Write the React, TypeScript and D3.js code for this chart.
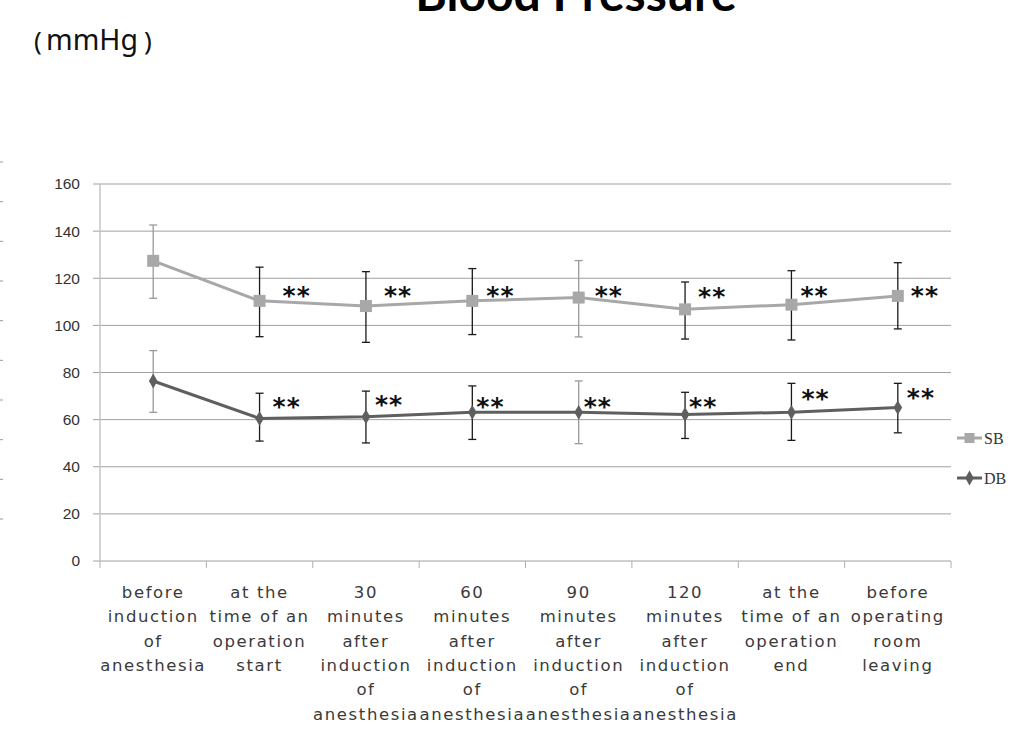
import React from "react";
import * as d3 from "d3";

const categories: string[][] = [
  ["before", "induction", "of", "anesthesia"],
  ["at the", "time of an", "operation", "start"],
  ["30", "minutes", "after", "induction", "of", "anesthesia"],
  ["60", "minutes", "after", "induction", "of", "anesthesia"],
  ["90", "minutes", "after", "induction", "of", "anesthesia"],
  ["120", "minutes", "after", "induction", "of", "anesthesia"],
  ["at the", "time of an", "operation", "end"],
  ["before", "operating", "room", "leaving"],
];

const sbMean = [127.4, 110.4, 108.2, 110.4, 111.8, 106.8, 108.8, 112.5];
const sbHigh = [142.6, 124.7, 122.8, 124.1, 127.5, 118.4, 123.2, 126.6];
const sbLow = [111.5, 95.2, 92.8, 96.1, 95.1, 94.2, 93.8, 98.5];

const dbMean = [76.4, 60.5, 61.2, 63.1, 63.1, 62.2, 63.1, 65.1];
const dbHigh = [89.3, 71.2, 72.1, 74.3, 76.4, 71.6, 75.4, 75.4];
const dbLow = [63.1, 50.9, 50.1, 51.6, 49.8, 52.0, 51.2, 54.4];

// error bar tone per point (true = light grey, false = black)
const sbBarLight = [true, false, false, false, true, false, false, false];
const dbBarLight = [true, false, false, false, true, false, false, false];

// significance marks ("**") and the value level at which they sit
const sbSig = ["", "**", "**", "**", "**", "**", "**", "**"];
const sbSigLevel = [0, 114.6, 114.8, 114.6, 114.6, 114.2, 114.4, 114.6];
const dbSig = ["", "**", "**", "**", "**", "**", "**", "**"];
const dbSigLevel = [0, 67.6, 68.4, 67.6, 67.6, 67.6, 70.8, 71.3];
// horizontal nudge of each mark from its point (px)
const sbSigShift = [0, 23, 18, 14, 16, 13, 9, 13];
const dbSigShift = [0, 13, 9, 4, 5, 4, 10, 9];

const yTicks = [0, 20, 40, 60, 80, 100, 120, 140, 160];
const seriesNames = ["SB", "DB"];
const edgeMarks = [0, 1, 2, 3, 4, 5, 6, 7, 8, 9];

const W = 1031;
const H = 745;
const left = 100;
const right = 951;
const top = 184;
const bottom = 561;

const SB_COLOR = "#a8a8a8";
const DB_COLOR = "#5f5f5f";
const FONT = "'DejaVu Sans', sans-serif";

export default function App() {
  const x = d3
    .scaleBand<number>()
    .domain(d3.range(categories.length))
    .range([left, right])
    .paddingInner(0)
    .paddingOuter(0);
  const cx = (i: number) => (x(i) as number) + x.bandwidth() / 2;
  const y = d3.scaleLinear().domain([0, 160]).range([bottom, top]);
  const edge = d3.scaleLinear().domain([0, 9]).range([162, 519]);

  const line = d3
    .line<number>()
    .x((_, i) => cx(i))
    .y((d) => y(d));

  const diamond = d3.symbol().type(d3.symbolDiamond).size(64)();

  const boundaries = d3.range(categories.length + 1).map((i) =>
    i < categories.length ? (x(i) as number) : right
  );

  const errorBars = (
    means: number[],
    highs: number[],
    lows: number[],
    light: boolean[],
    key: string
  ) =>
    means.map((_, i) => {
      const c = light[i] ? "#9a9a9a" : "#1a1a1a";
      const xx = cx(i);
      return (
        <g key={key + i} stroke={c} strokeWidth={1.3}>
          <line x1={xx} x2={xx} y1={y(highs[i])} y2={y(lows[i])} />
          <line x1={xx - 4} x2={xx + 4} y1={y(highs[i])} y2={y(highs[i])} />
          <line x1={xx - 4} x2={xx + 4} y1={y(lows[i])} y2={y(lows[i])} />
        </g>
      );
    });

  const sig = (
    marks: string[],
    levels: number[],
    shifts: number[],
    key: string
  ) =>
    marks.map((s, i) =>
      s ? (
        <text
          key={key + i}
          x={cx(i) + shifts[i]}
          y={y(levels[i]) + 13}
          fontFamily="'DejaVu Sans', sans-serif"
          fontSize={25}
          fontWeight="bold"
          letterSpacing={1}
          fill="#111"
        >
          {s}
        </text>
      ) : null
    );

  return (
    <svg
      width={W}
      height={H}
      style={{ position: "fixed", left: 0, top: 0, background: "#fff" }}
      fontFamily={FONT}
    >
      <rect x={0} y={0} width={W} height={H} fill="#fff" />
      {/* title (cut at top) */}
      <text
        x={576}
        y={11}
        textAnchor="middle"
        fontFamily="Lato, 'Open Sans', sans-serif"
        fontWeight="bold"
        fontSize={48}
        fill="#000"
      >
        Blood Pressure
      </text>
      <g fontFamily="'Noto Sans', sans-serif" fill="#111">
        <text x={34} y={50} fontSize={26}>(</text>
        <text x={46} y={50} fontSize={28.5}>mmHg</text>
        <text x={144} y={50} fontSize={26}>)</text>
      </g>

      {/* cropped marks at left edge */}
      {edgeMarks.map((m) => (
        <line
          key={"e" + m}
          x1={0}
          x2={3}
          y1={edge(m)}
          y2={edge(m)}
          stroke="#999"
          strokeWidth={1}
        />
      ))}

      {/* gridlines */}
      {yTicks.map((t) => (
        <line
          key={"g" + t}
          x1={left - 7}
          x2={right}
          y1={y(t)}
          y2={y(t)}
          stroke="#a0a0a0"
          strokeWidth={1}
        />
      ))}
      {/* y axis */}
      <line x1={left} x2={left} y1={top} y2={bottom + 1} stroke="#c4c4c4" strokeWidth={1.5} />
      {yTicks.map((t) => (
        <text
          key={"yt" + t}
          x={80}
          y={y(t)}
          dy="0.35em"
          textAnchor="end"
          fontFamily="'Liberation Sans', sans-serif"
          fontSize={15.5}
          fill="#333"
        >
          {t}
        </text>
      ))}
      {/* category boundary ticks */}
      {boundaries.map((b, i) => (
        <line
          key={"b" + i}
          x1={b}
          x2={b}
          y1={bottom}
          y2={bottom + 7}
          stroke="#b0b0b0"
          strokeWidth={1}
        />
      ))}
      {/* x labels */}
      {categories.map((lines, i) => (
        <text
          key={"xl" + i}
          x={cx(i)}
          textAnchor="middle"
          fontSize={16.5}
          letterSpacing={1.6}
          fill="#3a3a3a"
        >
          {lines.map((l, j) => (
            <tspan key={j} x={cx(i)} y={598 + j * 24.3}>
              {l}
            </tspan>
          ))}
        </text>
      ))}

      {/* error bars */}
      {errorBars(sbMean, sbHigh, sbLow, sbBarLight, "sbe")}
      {errorBars(dbMean, dbHigh, dbLow, dbBarLight, "dbe")}

      {/* lines */}
      <path d={line(sbMean) || ""} fill="none" stroke={SB_COLOR} strokeWidth={3} />
      <path d={line(dbMean) || ""} fill="none" stroke={DB_COLOR} strokeWidth={3} />

      {/* markers */}
      {sbMean.map((v, i) => (
        <rect
          key={"sm" + i}
          x={cx(i) - 6}
          y={y(v) - 6}
          width={12}
          height={12}
          fill={SB_COLOR}
        />
      ))}
      {dbMean.map((v, i) => (
        <path
          key={"dm" + i}
          d={diamond || ""}
          transform={`translate(${cx(i)},${y(v)})`}
          fill={DB_COLOR}
        />
      ))}

      {/* significance marks */}
      {sig(sbSig, sbSigLevel, sbSigShift, "ss")}
      {sig(dbSig, dbSigLevel, dbSigShift, "ds")}

      {/* legend */}
      {seriesNames.map((n, i) => {
        const ly = 438 + i * 40;
        const col = i === 0 ? SB_COLOR : DB_COLOR;
        return (
          <g key={"lg" + n}>
            <line x1={957} x2={982} y1={ly} y2={ly} stroke={col} strokeWidth={3} />
            {i === 0 ? (
              <rect x={964.5} y={ly - 5} width={10} height={10} fill={col} />
            ) : (
              <path d={diamond || ""} transform={`translate(969.5,${ly})`} fill={col} />
            )}
            <text
              x={984}
              y={ly}
              dy="0.36em"
              fontFamily="'Liberation Serif', serif"
              fontSize={16}
              fill="#333"
            >
              {n}
            </text>
          </g>
        );
      })}
    </svg>
  );
}
